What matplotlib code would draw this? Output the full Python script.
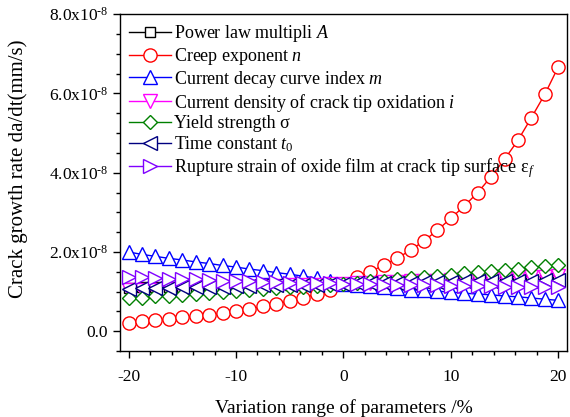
import numpy as np
import matplotlib.pyplot as plt
from matplotlib.ticker import MultipleLocator, FuncFormatter

plt.rcParams['font.family'] = 'Liberation Serif'
plt.rcParams['mathtext.fontset'] = 'custom'
plt.rcParams['mathtext.rm'] = 'Liberation Serif'
plt.rcParams['mathtext.it'] = 'Liberation Serif:italic'
plt.rcParams['axes.unicode_minus'] = False

variation = [-20, -18.75, -17.5, -16.25, -15, -13.75, -12.5, -11.25, -10,
             -8.75, -7.5, -6.25, -5, -3.75, -2.5, -1.25, 0,
             1.25, 2.5, 3.75, 5, 6.25, 7.5, 8.75, 10,
             11.25, 12.5, 13.75, 15, 16.25, 17.5, 18.75, 20]

# crack growth rate, in units of 1e-8 mm/s
rate_A = [1.10, 1.11, 1.11, 1.12, 1.12, 1.13, 1.14, 1.14, 1.15, 1.16, 1.16,
          1.17, 1.17, 1.18, 1.19, 1.19, 1.20, 1.21, 1.21, 1.22, 1.23, 1.23,
          1.24, 1.24, 1.25, 1.26, 1.26, 1.27, 1.27, 1.28, 1.29, 1.29, 1.30]
rate_n = [0.21, 0.25, 0.28, 0.30, 0.35, 0.38, 0.40, 0.46, 0.51, 0.56, 0.63,
          0.70, 0.76, 0.85, 0.93, 1.04, 1.20, 1.36, 1.50, 1.67, 1.84, 2.05,
          2.28, 2.55, 2.85, 3.16, 3.50, 3.90, 4.34, 4.82, 5.39, 5.98, 6.67]
rate_m = [2.00, 1.94, 1.89, 1.84, 1.80, 1.75, 1.71, 1.66, 1.62, 1.57, 1.53,
          1.48, 1.44, 1.39, 1.34, 1.27, 1.20, 1.17, 1.14, 1.11, 1.08, 1.05,
          1.03, 1.01, 0.99, 0.96, 0.94, 0.92, 0.89, 0.87, 0.84, 0.81, 0.78]
rate_i = [1.03, 1.04, 1.05, 1.06, 1.07, 1.08, 1.09, 1.11, 1.12, 1.13, 1.14,
          1.15, 1.16, 1.17, 1.18, 1.19, 1.20, 1.21, 1.22, 1.24, 1.25, 1.26,
          1.27, 1.28, 1.29, 1.31, 1.32, 1.33, 1.34, 1.36, 1.37, 1.38, 1.40]
rate_sigma = [0.83, 0.85, 0.88, 0.90, 0.92, 0.95, 0.97, 0.99, 1.02, 1.04,
              1.06, 1.09, 1.11, 1.13, 1.15, 1.18, 1.20, 1.23, 1.26, 1.28,
              1.31, 1.34, 1.37, 1.40, 1.43, 1.46, 1.49, 1.52, 1.55, 1.58,
              1.61, 1.64, 1.67]
rate_t0 = [1.07, 1.08, 1.09, 1.10, 1.11, 1.11, 1.12, 1.13, 1.14, 1.15, 1.16,
           1.16, 1.17, 1.18, 1.18, 1.19, 1.20, 1.21, 1.21, 1.22, 1.23, 1.23,
           1.24, 1.24, 1.25, 1.26, 1.26, 1.27, 1.27, 1.28, 1.28, 1.29, 1.29]
rate_eps = [1.37, 1.36, 1.34, 1.33, 1.32, 1.31, 1.29, 1.28, 1.27, 1.26, 1.25,
            1.24, 1.23, 1.22, 1.22, 1.21, 1.20, 1.19, 1.19, 1.18, 1.17, 1.17,
            1.16, 1.16, 1.15, 1.15, 1.14, 1.14, 1.13, 1.13, 1.13, 1.12, 1.12]

series = [
    (rate_A, "Power law multipli $\\mathit{A}$", "black", "s", 7.5),
    (rate_n, "Creep exponent $\\mathit{n}$", "red", "o", 9.5),
    (rate_m, "Current decay curve index $\\mathit{m}$", "blue", "^", 9.5),
    (rate_i, "Current density of crack tip oxidation $\\mathit{i}$", "#FF00FF", "v", 9.5),
    (rate_sigma, "Yield strength \u03c3", "#008000", "D", 7.5),
    (rate_t0, "Time constant $\\mathit{t}_{\\mathrm{0}}$", "#000080", "<", 9.5),
    (rate_eps, "Rupture strain of oxide film at crack tip surface \u03b5$_{\\mathit{f}}$", "#8000FF", ">", 9.5),
]

fig = plt.figure(figsize=(5.7, 4.17), dpi=100)
ax = fig.add_axes([0.2105, 0.158, 0.784, 0.808])

x = np.array(variation)
for vals, label, color, marker, ms in series:
    ax.plot(x, np.array(vals) * 1e-8, color=color, marker=marker, ms=ms,
            mfc="white", mec=color, mew=1.0, lw=1.0, label=label)

ax.set_xlim(-20.8, 20.8)
ax.set_ylim(-0.5e-8, 8.0e-8)
ax.xaxis.set_major_locator(MultipleLocator(10))
ax.xaxis.set_minor_locator(MultipleLocator(2))
ax.yaxis.set_major_locator(MultipleLocator(2e-8))
ax.yaxis.set_minor_locator(MultipleLocator(0.5e-8))


def fmt(v, pos):
    m = v / 1e-8
    if abs(m) < 1e-9:
        return "0.0"
    return "%.1fx10$^{\\text{-8}}$" % m


ax.yaxis.set_major_formatter(FuncFormatter(fmt))
ax.tick_params(which="both", direction="out", top=False, right=False,
               labelsize=12.5, width=1.0)
ax.tick_params(which="major", length=5)
ax.tick_params(which="minor", length=3)
ax.tick_params(axis="x", pad=8)
for s in ax.spines.values():
    s.set_linewidth(1.0)

ax.set_xlabel("Variation range of parameters /%", fontsize=14, labelpad=10)
ax.set_ylabel("Crack growth rate da/dt(mm/s)", fontsize=15)
ax.yaxis.set_label_coords(-0.205, 0.54)

ax.legend(loc="upper left", frameon=False, fontsize=13, handlelength=2.3,
          handletextpad=0.2, labelspacing=0.1, borderaxespad=0.2,
          borderpad=0.3)

fig.savefig("out.png", dpi=100)
